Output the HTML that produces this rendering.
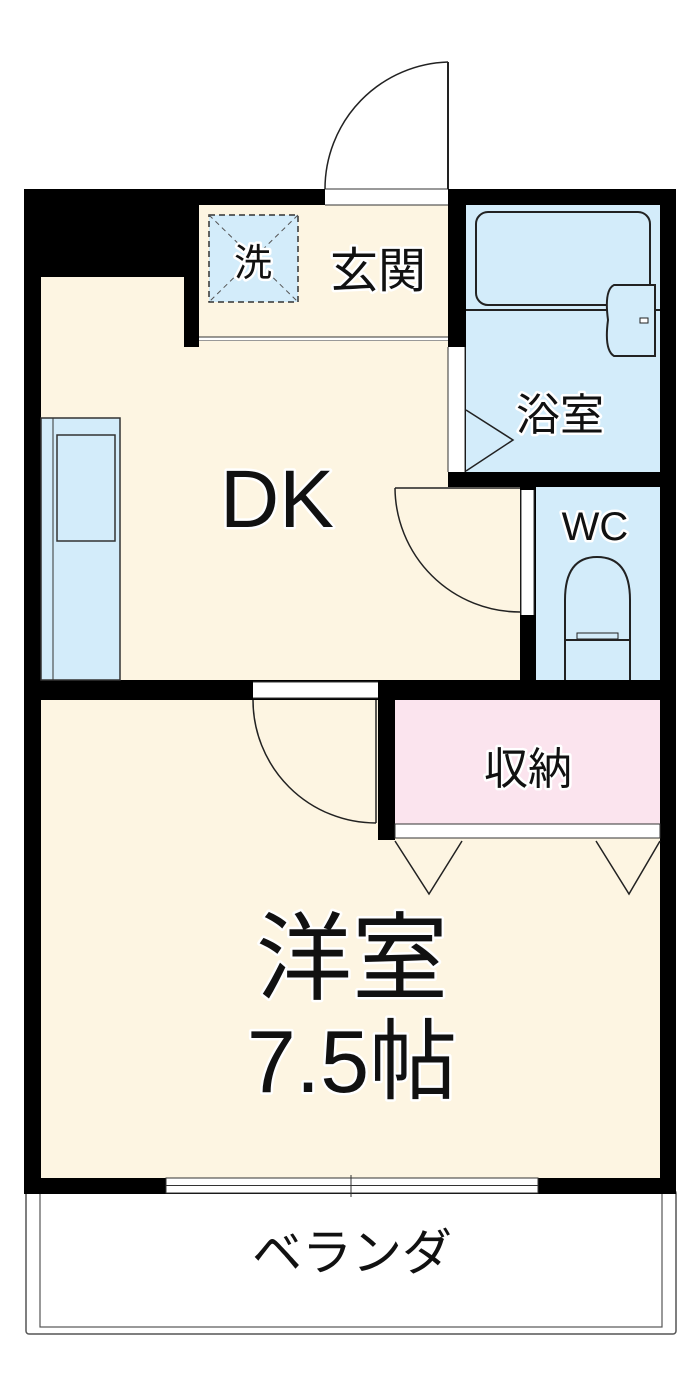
<!DOCTYPE html>
<html><head><meta charset="utf-8"><style>
html,body{margin:0;padding:0;background:#fff;}
svg{display:block}
text{font-family:"Liberation Sans","Noto Sans CJK JP",sans-serif;fill:#111;paint-order:stroke;stroke:#fff;stroke-width:5px;stroke-linejoin:round;text-anchor:middle}
</style></head><body>
<svg width="700" height="1389" viewBox="0 0 700 1389" xmlns="http://www.w3.org/2000/svg">
<rect x="26" y="1190" width="650" height="144" rx="3" fill="#fff" stroke="#555" stroke-width="1.5"/>
<rect x="40" y="1190" width="622" height="137" fill="#fff" stroke="#555" stroke-width="1.2"/>
<rect x="24" y="189" width="652" height="1005" fill="#000"/>
<rect x="199" y="205" width="249" height="132" fill="#fdf5e2"/>
<rect x="199" y="337" width="249" height="4" fill="#fff"/>
<line x1="199" y1="337" x2="448" y2="337" stroke="#333" stroke-width="1"/>
<line x1="199" y1="341" x2="448" y2="341" stroke="#333" stroke-width="1"/>
<path d="M41 277 L184 277 L184 347 L199 347 L199 341 L448 341 L448 487 L520 487 L520 680 L41 680 Z" fill="#fdf5e2"/>
<rect x="466" y="205" width="194" height="267" fill="#d3ecfa"/>
<rect x="536" y="487" width="124" height="193" fill="#d3ecfa"/>
<rect x="41" y="700" width="619" height="478" fill="#fdf5e2"/>
<rect x="378" y="680" width="17" height="160" fill="#000"/>
<rect x="395" y="700" width="265" height="124" fill="#fbe4ee"/>
<rect x="395" y="824" width="265" height="14" fill="#fff" stroke="#333" stroke-width="1"/>
<polyline points="395,841 429,894 462,841" fill="none" stroke="#222" stroke-width="1.5"/>
<polyline points="596,841 629,894 660,841" fill="none" stroke="#222" stroke-width="1.5"/>
<rect x="325" y="189" width="123" height="16" fill="#fff"/>
<line x1="325" y1="189" x2="448" y2="189" stroke="#333" stroke-width="1"/>
<line x1="325" y1="205" x2="448" y2="205" stroke="#333" stroke-width="1"/>
<line x1="448" y1="62" x2="448" y2="189" stroke="#222" stroke-width="2"/>
<path d="M448 62 A127 127 0 0 0 325 189" fill="none" stroke="#222" stroke-width="1.5"/>
<rect x="209" y="215" width="89" height="87" fill="#d3ecfa" stroke="#333" stroke-width="1.5" stroke-dasharray="6 4"/>
<line x1="209" y1="215" x2="298" y2="302" stroke="#555" stroke-dasharray="5 4"/>
<line x1="298" y1="215" x2="209" y2="302" stroke="#555" stroke-dasharray="5 4"/>
<rect x="476" y="212" width="174" height="93" rx="12" fill="none" stroke="#222" stroke-width="2"/>
<line x1="466" y1="310" x2="660" y2="310" stroke="#222" stroke-width="2"/>
<path d="M614 285 L655 285 L655 356 L614 356 Q604 350 608 320 Q604 290 614 285 Z" fill="#d3ecfa" stroke="#222" stroke-width="2"/>
<rect x="640" y="318" width="8" height="5" fill="#fff" stroke="#222"/>
<rect x="448" y="347" width="17" height="125" fill="#fff"/>
<line x1="448" y1="347" x2="448" y2="472" stroke="#333"/>
<line x1="465" y1="347" x2="465" y2="472" stroke="#333"/>
<polyline points="466,410 513,440 466,471" fill="none" stroke="#222" stroke-width="1.5"/>
<rect x="521" y="490" width="13" height="125" fill="#fff"/>
<line x1="521" y1="490" x2="521" y2="615" stroke="#333"/>
<line x1="534" y1="490" x2="534" y2="615" stroke="#333"/>
<line x1="395" y1="488" x2="520" y2="488" stroke="#222" stroke-width="1.5"/>
<path d="M395 488 A125 125 0 0 0 520 612" fill="none" stroke="#222" stroke-width="1.5"/>
<path d="M565 680 L565 600 Q565 557 597 557 Q630 557 630 600 L630 680" fill="none" stroke="#222" stroke-width="2"/>
<line x1="565" y1="640" x2="630" y2="640" stroke="#222" stroke-width="2"/>
<rect x="577" y="633" width="41" height="6" fill="none" stroke="#222"/>
<rect x="41" y="418" width="79" height="262" fill="#d3ecfa" stroke="#333" stroke-width="1.5"/>
<rect x="57" y="435" width="58" height="106" fill="#d3ecfa" stroke="#333" stroke-width="1.5"/>
<line x1="53" y1="418" x2="53" y2="680" stroke="#333"/>
<rect x="253" y="682" width="125" height="16" fill="#fff"/>
<line x1="253" y1="682" x2="378" y2="682" stroke="#333"/>
<line x1="253" y1="698" x2="378" y2="698" stroke="#333"/>
<line x1="376" y1="700" x2="376" y2="823" stroke="#222" stroke-width="1.5"/>
<path d="M253 700 A123 123 0 0 0 376 823" fill="none" stroke="#222" stroke-width="1.5"/>
<rect x="166" y="1178" width="372" height="15" fill="#fff" stroke="#333"/>
<line x1="166" y1="1185.5" x2="538" y2="1185.5" stroke="#333"/>
<line x1="351" y1="1175" x2="351" y2="1197" stroke="#333"/>
<text x="253" y="276" font-size="38">洗</text>
<text x="378" y="287" font-size="48">玄関</text>
<text x="560" y="430" font-size="44">浴室</text>
<text x="595" y="540" font-size="40">WC</text>
<text x="277" y="527" font-size="82">DK</text>
<text x="528" y="784" font-size="44">収納</text>
<text x="352" y="992" font-size="96">洋室</text>
<text x="352" y="1092" font-size="88">7.5帖</text>
<text x="352" y="1270" font-size="50">ベランダ</text>
</svg>
</body></html>
